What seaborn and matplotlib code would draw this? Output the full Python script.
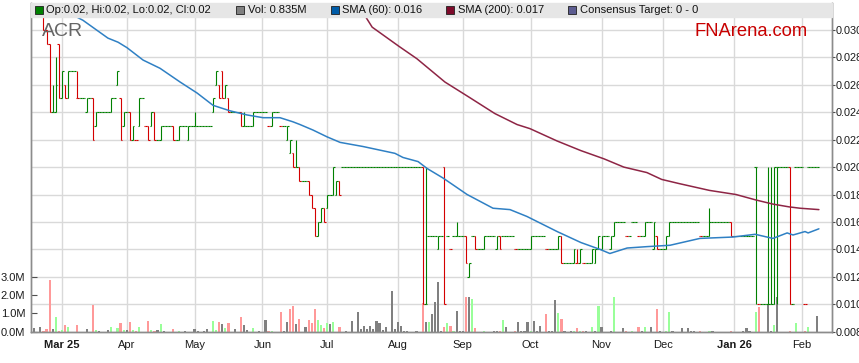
import numpy as np
import pandas as pd
import matplotlib
matplotlib.use('Agg')
import matplotlib.pyplot as plt
import seaborn as sns
from matplotlib.patches import Rectangle
from matplotlib.transforms import blended_transform_factory

# trading days shown on the chart (weekdays, Feb 18 2025 .. Feb 9 2026)
dates = pd.bdate_range('2025-02-18', '2026-02-09')

# daily prices in tenths of a cent (0.001 AUD)
opens = [31, 31, 31, 31, 30, 29, 24, 24, 29, 25,
         26, 25, 27, 27, 25, 25, 25, 24, 25, 25,
         23, 24, 24, 24, 24, 24, 25, 26, 25, 23,
         24, 24, 22, 22, 23, 25, 23, 23, 23, 24,
         22, 22, 23, 23, 23, 23, 22, 22, 23, 23,
         22, 23, 23, 23, 23, 23, 23, 23, 24, 26,
         26, 27, 25, 25, 24, 24, 24, 24, 23, 23,
         23, 23, 24, 24, 24, 24, 23, 23, 24, 24,
         23, 23, 22, 21, 21, 20, 20, 19, 19, 19,
         18, 17, 15, 16, 17, 17, 18, 18, 18, 19,
         20, 20, 20, 20, 20, 20, 20, 20, 20, 20,
         20, 20, 20, 20, 20, 20, 20, 20, 20, 20,
         20, 20, 20, 20, 20, 20, 20, 10, 15, 15,
         15, 14, 15, 20, 15, 14, 15, 15, 15, 15,
         15, 12, 15, 15, 14, 14, 14, 15, 15, 15,
         14, 15, 15, 15, 15, 15, 14, 14, 14, 14,
         14, 14, 15, 15, 15, 15, 14, 14, 14, 14,
         14, 15, 13, 13, 13, 13, 13, 13, 13, 13,
         13, 13, 13, 14, 14, 15, 15, 14, 15, 16,
         16, 16, 15, 15, 16, 16, 15, 15, 15, 16,
         16, 14, 15, 14, 14, 14, 15, 16, 16, 16,
         16, 16, 16, 16, 16, 16, 15, 15, 15, 15,
         16, 16, 16, 16, 16, 16, 16, 15, 15, 15,
         15, 15, 15, 15, 20, 10, 10, 10, 10, 10,
         10, 20, 20, 20, 20, 20, 10, 20, 20, 20,
         10, 20, 20, 20, 20]
highs = [31, 31, 31, 31, 30, 29, 26, 28, 29, 27,
         26, 27, 27, 27, 27, 25, 25, 25, 25, 25,
         24, 24, 24, 24, 24, 25, 25, 27, 25, 24,
         24, 24, 23, 22, 25, 25, 23, 23, 24, 24,
         22, 23, 23, 23, 23, 23, 22, 23, 23, 23,
         23, 23, 24, 23, 23, 23, 23, 23, 25, 27,
         26, 27, 26, 25, 24, 24, 24, 24, 24, 23,
         23, 24, 24, 24, 24, 24, 23, 24, 24, 24,
         23, 23, 23, 22, 21, 22, 20, 19, 19, 19,
         18, 17, 16, 17, 17, 18, 18, 20, 19, 19,
         20, 20, 20, 20, 20, 20, 20, 20, 20, 20,
         20, 20, 20, 20, 20, 20, 20, 20, 20, 20,
         20, 20, 20, 20, 20, 20, 20, 20, 15, 15,
         15, 15, 15, 20, 15, 14, 15, 16, 15, 15,
         15, 13, 15, 15, 14, 14, 15, 15, 15, 15,
         15, 15, 15, 15, 15, 15, 14, 14, 14, 14,
         14, 15, 15, 15, 15, 15, 14, 14, 14, 14,
         15, 15, 13, 13, 13, 14, 14, 14, 13, 13,
         13, 14, 14, 15, 15, 15, 15, 15, 16, 16,
         16, 16, 15, 15, 16, 16, 15, 15, 16, 16,
         16, 16, 15, 14, 14, 15, 16, 16, 16, 16,
         16, 16, 16, 16, 16, 16, 15, 15, 15, 17,
         16, 16, 16, 16, 16, 16, 16, 15, 15, 15,
         15, 15, 15, 15, 20, 10, 10, 10, 20, 20,
         20, 20, 20, 20, 20, 20, 10, 20, 20, 20,
         10, 20, 20, 20, 20]
lows = [31, 31, 31, 30, 29, 24, 24, 24, 25, 25,
        25, 25, 27, 27, 25, 25, 25, 24, 25, 22,
        23, 24, 24, 24, 24, 24, 25, 26, 22, 23,
        24, 22, 22, 22, 23, 25, 23, 22, 23, 22,
        22, 22, 23, 23, 23, 22, 22, 22, 23, 23,
        22, 23, 23, 23, 23, 23, 23, 23, 24, 26,
        25, 25, 25, 24, 24, 24, 24, 23, 23, 23,
        23, 23, 24, 24, 24, 24, 23, 23, 24, 24,
        23, 23, 22, 21, 20, 20, 19, 19, 19, 18,
        17, 15, 15, 16, 16, 17, 18, 18, 18, 18,
        20, 20, 20, 20, 20, 20, 20, 20, 20, 20,
        20, 20, 20, 20, 20, 20, 20, 20, 20, 20,
        20, 20, 20, 20, 20, 20, 10, 10, 15, 15,
        15, 14, 15, 10, 15, 14, 15, 15, 15, 15,
        13, 12, 15, 14, 14, 14, 14, 15, 15, 15,
        14, 14, 15, 15, 15, 15, 14, 14, 14, 14,
        14, 14, 15, 15, 15, 15, 14, 14, 14, 14,
        14, 13, 13, 13, 13, 13, 13, 13, 13, 13,
        13, 13, 13, 14, 14, 15, 15, 14, 15, 16,
        16, 16, 15, 15, 16, 16, 15, 15, 15, 16,
        16, 14, 14, 14, 14, 14, 15, 16, 16, 16,
        16, 16, 16, 16, 16, 16, 15, 15, 15, 15,
        16, 16, 16, 16, 16, 16, 15, 15, 15, 15,
        15, 15, 15, 15, 10, 10, 10, 10, 10, 10,
        10, 10, 20, 20, 20, 10, 10, 20, 20, 20,
        10, 20, 20, 20, 20]
closes = [31, 31, 31, 30, 29, 24, 24, 26, 25, 27,
          25, 27, 27, 27, 25, 25, 25, 25, 25, 22,
          24, 24, 24, 24, 24, 25, 25, 27, 22, 24,
          24, 22, 23, 22, 25, 25, 23, 22, 24, 22,
          22, 23, 23, 23, 23, 22, 22, 23, 23, 23,
          23, 23, 23, 23, 23, 23, 23, 23, 25, 27,
          25, 25, 26, 24, 24, 24, 24, 23, 23, 23,
          23, 24, 24, 24, 24, 24, 23, 24, 24, 24,
          23, 23, 23, 22, 20, 20, 19, 19, 19, 18,
          17, 15, 16, 17, 16, 18, 18, 20, 19, 18,
          20, 20, 20, 20, 20, 20, 20, 20, 20, 20,
          20, 20, 20, 20, 20, 20, 20, 20, 20, 20,
          20, 20, 20, 20, 20, 20, 10, 10, 15, 15,
          15, 15, 15, 10, 15, 14, 15, 15, 15, 15,
          13, 13, 15, 14, 14, 14, 15, 15, 15, 15,
          15, 14, 15, 15, 15, 15, 14, 14, 14, 14,
          14, 15, 15, 15, 15, 15, 14, 14, 14, 14,
          15, 13, 13, 13, 13, 14, 13, 14, 13, 13,
          13, 14, 14, 15, 15, 15, 15, 15, 16, 16,
          16, 16, 15, 15, 16, 16, 15, 15, 16, 16,
          16, 16, 14, 14, 14, 15, 16, 16, 16, 16,
          16, 16, 16, 16, 16, 16, 15, 15, 15, 16,
          16, 16, 16, 16, 16, 16, 15, 15, 15, 15,
          15, 15, 15, 15, 20, 10, 10, 10, 10, 10,
          20, 20, 20, 20, 20, 10, 10, 20, 20, 20,
          10, 20, 20, 20, 20]
# daily volume in millions of shares
volumes = [0.18, 0, 0.27, 0.05, 0.15, 2.8, 0.15, 0.82, 0.05, 0.1,
           0.37, 0.27, 0, 0, 0.37, 0, 0, 0.15, 0, 1.45,
           0.1, 0.05, 0, 0, 0.1, 0.25, 0, 0.2, 0.5, 0.1,
           0.1, 0.55, 0.1, 0.05, 0.25, 0, 0, 0.58, 0.1, 0.05,
           0.1, 0.42, 0.05, 0, 0, 0.15, 0, 0.05, 0, 0.05,
           0, 0, 0.15, 0.05, 0, 0.05, 0.15, 0, 0.6, 0.1,
           0.55, 0.4, 0.22, 0.5, 0, 0.15, 0, 0.78, 0.35, 0.1,
           0, 0.22, 0, 0.05, 0, 0.65, 0.05, 0.05, 0, 0,
           1.05, 0.05, 0.55, 1.25, 1.42, 0.4, 0.7, 0, 0.25, 0.65,
           0.5, 1.22, 0.65, 0.38, 0.22, 0.5, 0.43, 0.55, 0, 0.28,
           0, 0.05, 0, 0.6, 0, 1.1, 0.13, 0.33, 0.13, 0.33,
           0.13, 0.6, 0.5, 0.1, 0.25, 0, 2.22, 0.15, 0.55, 0.33,
           0.05, 0.05, 0, 0, 0.05, 0, 1.55, 0.55, 0.55, 0.95,
           1.63, 2.72, 0.05, 0.27, 0.45, 0.33, 0.05, 1.15, 0.05, 0.05,
           1.87, 1.9, 1.78, 0.22, 0, 0, 0.05, 0, 0, 0.05,
           0.05, 0.05, 0.63, 0.27, 0, 0, 0.05, 0.55, 0.05, 0.05,
           0.55, 0.05, 0.6, 0.05, 0.3, 0, 0.96, 0.05, 0.05, 1.73,
           1.0, 0.7, 0.05, 0, 0.05, 0.05, 0.22, 0.05, 0.05, 0.05,
           0, 0.27, 0.05, 1.42, 0.27, 0, 0, 0.05, 1.87, 0,
           0, 0.22, 0.05, 0, 0.05, 0, 0.27, 0.05, 0.27, 0,
           0.27, 0, 1.22, 0.05, 0, 0.05, 1.1, 0.05, 0, 0,
           0.22, 0, 0.22, 0.05, 0.05, 0, 0.05, 0, 0, 0.05,
           0.05, 0, 0, 0, 0, 0, 0.05, 0, 0, 0,
           0.05, 0.22, 0.05, 0, 1.05, 1.36, 0, 0, 1.5, 0.05,
           0.36, 1.9, 0, 0, 0, 0.05, 0, 0.45, 0, 0,
           0.05, 0.27, 0, 0, 0.835]

# moving averages (day index, price in 0.001)
sma60_day = [5, 9, 15.8, 23.9, 27.2, 30.1, 35.3, 40.8, 47.3, 52.8, 58, 63.5,
             69, 74.2, 79.7, 83.9, 86.2, 90.4, 95, 99.2, 106.6, 117, 119.6,
             124.5, 127.4, 132.6, 140.4, 148.8, 154.3, 159.8, 169.6, 177.3,
             183.5, 186.7, 192.3, 198.7, 206.2, 215.9, 226.6, 233.8, 239.6,
             244.2, 246.1, 250, 251, 254.5]
sma60_val = [32.0, 31.5, 30.7, 29.4, 29.1, 28.7, 27.8, 27.2, 26.2, 25.4, 24.5,
             24.1, 23.8, 23.6, 23.6, 23.3, 23.1, 22.7, 22.2, 21.8, 21.5, 21.0,
             20.7, 20.4, 19.9, 19.2, 18.0, 17.0, 16.9, 16.4, 15.3, 14.5, 14.0,
             13.7, 14.1, 14.2, 14.3, 14.8, 14.9, 15.1, 14.8, 15.2, 15.05, 15.3,
             15.2, 15.5]
sma200_day = [102, 104, 109.6, 118.3, 124.1, 133.2, 141, 149.4, 156.6, 160.8,
              169.6, 177.3, 184.8, 191.2, 198.7, 203.5, 209.1, 219, 227.6,
              234.1, 239.6, 244.8, 248.4, 254.5]
sma200_val = [32.4, 32.2, 30.2, 28.8, 27.9, 26.2, 25.1, 23.9, 23.1, 22.8, 21.9,
              21.2, 20.6, 20.0, 19.6, 19.1, 18.8, 18.3, 18.0, 17.6, 17.3, 17.1,
              17.0, 16.9]

price_ticks = [0.008, 0.010, 0.012, 0.014, 0.016, 0.018, 0.020, 0.022,
               0.024, 0.026, 0.028, 0.030]
vol_ticks = [0, 1, 2, 3]

df = pd.DataFrame({'date': dates, 'open': opens, 'high': highs,
                   'low': lows, 'close': closes, 'volume': volumes})
df[['open', 'high', 'low', 'close']] = df[['open', 'high', 'low', 'close']] / 1000
df['x'] = np.arange(len(df))
prev = df['close'].shift(1).fillna(df['close'])

GREEN, RED = '#008000', '#d40000'
up = (df['close'] > df['open']) | ((df['close'] == df['open']) & (df['close'] >= prev))
bar_cols = np.where(up, GREEN, RED)
vol_cols = np.where(df['close'] > prev, '#99ff99',
                    np.where(df['close'] < prev, '#ff9999', '#808080'))

sns.set_style('white')
plt.rcParams['font.family'] = ['Liberation Sans', 'DejaVu Sans']

W, H = 859, 363
fig = plt.figure(figsize=(W / 100, H / 100), dpi=100)
vax = fig.add_axes([30.7 / W, 1 - 331.7 / H, 801 / W, 328.7 / H])
ax = vax.twinx()

# volume (left scale)
vax.bar(df['x'], df['volume'], width=0.7, color=vol_cols, linewidth=0,
        antialiased=False, zorder=2)
vax.set_ylim(0, 17.96)
vax.set_yticks(vol_ticks)
vax.set_yticklabels([f'{v:.1f}M' for v in vol_ticks])

# grid
grid_col = '#d9d9d9'
vax.set_axisbelow(True)
vax.xaxis.grid(True, color=grid_col, lw=1.0)
tr = blended_transform_factory(vax.transAxes, ax.transData)
for p in price_ticks:
    vax.plot([0, 1], [p, p], transform=tr, color=grid_col, lw=1.0, zorder=0.5)

# OHLC bars
ax.vlines(df['x'], df['low'], df['high'], colors=bar_cols, lw=0.8)
ax.hlines(df['open'], df['x'] - 0.5, df['x'], colors=bar_cols, lw=0.8)
ax.hlines(df['close'], df['x'], df['x'] + 0.5, colors=bar_cols, lw=0.8)

# moving averages
sns.lineplot(x=sma60_day, y=np.array(sma60_val) / 1000, ax=ax,
             color='#2f80c4', lw=1.1, sort=False)
sns.lineplot(x=sma200_day, y=np.array(sma200_val) / 1000, ax=ax,
             color='#8e2545', lw=1.1, sort=False)

ax.set_xlim(-1.15, 258.65)
ax.set_ylim(0.008, 0.03196)
ax.set_yticks(price_ticks)
ax.set_yticklabels([f'{p:.3f}' for p in price_ticks])
ax.set_xlabel('')
ax.set_ylabel('')

# month ticks at first trading day of each month
month_x, month_lab = [], []
for k in range(1, len(dates)):
    if dates[k].month != dates[k - 1].month:
        month_x.append(k)
        if dates[k].month == 1 or not month_lab:
            month_lab.append(dates[k].strftime('%b %y'))
        else:
            month_lab.append(dates[k].strftime('%b'))
vax.set_xticks(month_x)
vax.set_xticklabels(month_lab)
for t in vax.get_xticklabels():
    if ' ' in t.get_text():
        t.set_fontweight('bold')

tick_col = '#1a1a1a'
vax.tick_params(axis='x', direction='out', length=4, width=0.8, pad=2,
                labelsize=8, colors='#808080', labelcolor=tick_col)
vax.tick_params(axis='y', direction='in', length=4, width=0.8, pad=4,
                labelsize=8, colors='#505050', labelcolor=tick_col)
ax.tick_params(axis='y', direction='out', length=2.2, width=0.8, pad=0.6,
               labelsize=7.8, colors='#505050', labelcolor=tick_col)

for a in (vax, ax):
    a.spines['top'].set_visible(False)
    for s in ('left', 'right', 'bottom'):
        a.spines[s].set_color('#8c8c8c')
        a.spines[s].set_linewidth(1.0)

# legend strip across the top
def px(x, y):
    return x / W, 1 - y / H

fig.add_artist(Rectangle(px(30.7, 16.7), 801 / W, 14 / H,
                         transform=fig.transFigure, color='#e6e6e6', zorder=10))
entries = [(35, GREEN, 'Op:0.02, Hi:0.02, Lo:0.02, Cl:0.02'),
           (236, '#808080', 'Vol: 0.835M'),
           (331, '#005ca8', 'SMA (60): 0.016'),
           (446, '#7d0a2a', 'SMA (200): 0.017'),
           (568, '#5c5c90', 'Consensus Target: 0 - 0')]
for sx, col, label in entries:
    fig.add_artist(Rectangle(px(sx, 14), 8 / W, 8 / H, transform=fig.transFigure,
                             facecolor=col, edgecolor='#202020', lw=0.6, zorder=11))
    fig.text(*px(sx + 11.5, 9.8), label, fontsize=8, color='#111111',
             va='center', ha='left', zorder=12)

fig.text(*px(42, 32), 'ACR', fontsize=14, color='#666666', va='center',
         ha='left', zorder=12)
fig.text(*px(694, 32), 'FNArena.com', fontsize=13.2, color='#c80000',
         va='center', ha='left', zorder=12)

fig.savefig('out.png', dpi=100)
